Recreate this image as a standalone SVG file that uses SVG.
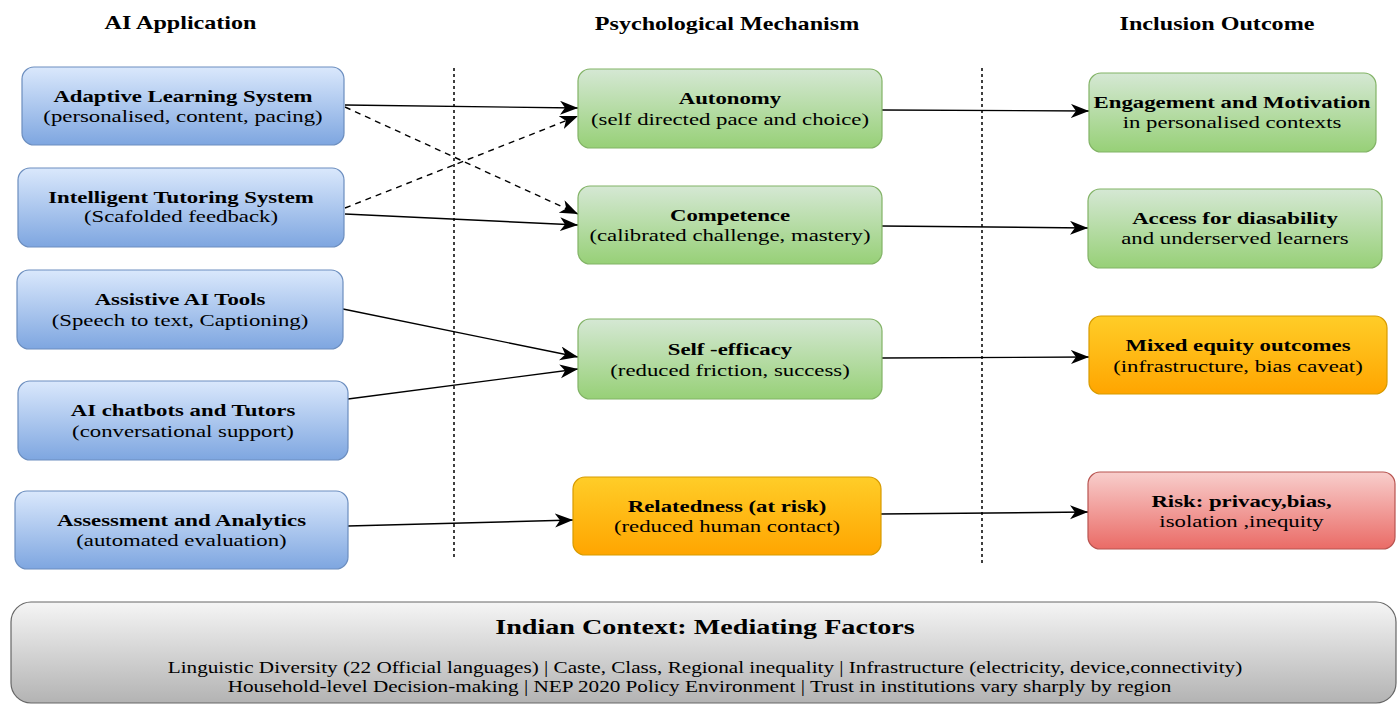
<svg xmlns="http://www.w3.org/2000/svg" width="1398" height="704" viewBox="0 0 1398 704">
  <style>
    text { font-family: "Liberation Serif", "Times New Roman", serif; fill: #000; text-anchor: middle; }
    .hd { font-size: 18px; font-weight: bold; }
    .tt { font-size: 17px; font-weight: bold; }
    .st { font-size: 17px; }
    .ft { font-size: 21px; font-weight: bold; }
    .fl { font-size: 15.8px; }
    .blue { fill: url(#gBlue); stroke: #6c8ebf; stroke-width: 1.2; }
    .green { fill: url(#gGreen); stroke: #82b366; stroke-width: 1.2; }
    .orange { fill: url(#gOrange); stroke: #d79b00; stroke-width: 1.2; }
    .red { fill: url(#gRed); stroke: #b85450; stroke-width: 1.2; }
    .gray { fill: url(#gGray); stroke: #666666; stroke-width: 1.2; }
    .sep { stroke: #000; stroke-width: 1.5; stroke-dasharray: 3 3; fill: none; }
    .edge { stroke: #000; stroke-width: 1.4; fill: none; marker-end: url(#arrow); }
    .dash { stroke-dasharray: 6 5; }
  </style>
  <defs>
    <linearGradient id="gBlue" x1="0" y1="0" x2="0" y2="1">
      <stop offset="0" stop-color="#dae8fc"/>
      <stop offset="1" stop-color="#7ea6e0"/>
    </linearGradient>
    <linearGradient id="gGreen" x1="0" y1="0" x2="0" y2="1">
      <stop offset="0" stop-color="#d5e8d4"/>
      <stop offset="1" stop-color="#97d077"/>
    </linearGradient>
    <linearGradient id="gOrange" x1="0" y1="0" x2="0" y2="1">
      <stop offset="0" stop-color="#ffcd28"/>
      <stop offset="1" stop-color="#ffa500"/>
    </linearGradient>
    <linearGradient id="gRed" x1="0" y1="0" x2="0" y2="1">
      <stop offset="0" stop-color="#f8cecc"/>
      <stop offset="1" stop-color="#ea6b66"/>
    </linearGradient>
    <linearGradient id="gGray" x1="0" y1="0" x2="0" y2="1">
      <stop offset="0" stop-color="#f5f5f5"/>
      <stop offset="1" stop-color="#b3b3b3"/>
    </linearGradient>
    <marker id="arrow" markerUnits="userSpaceOnUse" markerWidth="20" markerHeight="16" refX="18" refY="7" orient="auto">
      <path d="M0,0 L18,7 L0,14 L5,7 Z" fill="#000"/>
    </marker>
  </defs>

  <!-- column headings -->
  <g id="headings">
    <text class="hd" transform="matrix(1.34 0 0 1 180.5 28.5)">AI Application</text>
    <text class="hd" transform="matrix(1.34 0 0 1 727 30)">Psychological Mechanism</text>
    <text class="hd" transform="matrix(1.34 0 0 1 1217 30)">Inclusion Outcome</text>
  </g>

  <!-- column separators -->
  <g id="separators">
    <line class="sep" x1="454" y1="68" x2="454" y2="557"/>
    <line class="sep" x1="982" y1="68" x2="982" y2="565"/>
  </g>

  <!-- connectors -->
  <g id="connectors">
    <path class="edge" d="M345,105 L578,108"/>
    <path class="edge dash" d="M345,107 L578,214"/>
    <path class="edge dash" d="M345,208 L578,116"/>
    <path class="edge" d="M345,214 L578,225"/>
    <path class="edge" d="M343,309 L578,357"/>
    <path class="edge" d="M348,399 L578,369"/>
    <path class="edge" d="M348,526 L573,520"/>
    <path class="edge" d="M882,110 L1089,111"/>
    <path class="edge" d="M882,226 L1088,228"/>
    <path class="edge" d="M882,358 L1089,357"/>
    <path class="edge" d="M881,514 L1088,512"/>
  </g>

  <!-- AI applications -->
  <g id="adaptive-learning">
    <rect class="blue" x="22" y="67" width="322" height="78" rx="12"/>
    <text class="tt" transform="matrix(1.34 0 0 1 183 102)">Adaptive Learning System</text>
    <text class="st" transform="matrix(1.34 0 0 1 183 122)">(personalised, content, pacing)</text>
  </g>
  <g id="intelligent-tutoring">
    <rect class="blue" x="18" y="168" width="326" height="79" rx="12"/>
    <text class="tt" transform="matrix(1.34 0 0 1 181 203)">Intelligent Tutoring System</text>
    <text class="st" transform="matrix(1.34 0 0 1 181 222)">(Scafolded feedback)</text>
  </g>
  <g id="assistive-tools">
    <rect class="blue" x="17" y="270" width="326" height="79" rx="12"/>
    <text class="tt" transform="matrix(1.34 0 0 1 180 305)">Assistive AI Tools</text>
    <text class="st" transform="matrix(1.34 0 0 1 180 326)">(Speech to text, Captioning)</text>
  </g>
  <g id="chatbots-tutors">
    <rect class="blue" x="18" y="381" width="330" height="79" rx="12"/>
    <text class="tt" transform="matrix(1.34 0 0 1 183 416)">AI chatbots and Tutors</text>
    <text class="st" transform="matrix(1.34 0 0 1 183 437)">(conversational support)</text>
  </g>
  <g id="assessment-analytics">
    <rect class="blue" x="15" y="491" width="333" height="78" rx="12"/>
    <text class="tt" transform="matrix(1.34 0 0 1 181.5 526)">Assessment and Analytics</text>
    <text class="st" transform="matrix(1.34 0 0 1 181.5 546)">(automated evaluation)</text>
  </g>

  <!-- psychological mechanisms -->
  <g id="autonomy">
    <rect class="green" x="578" y="69" width="304" height="79" rx="12"/>
    <text class="tt" transform="matrix(1.34 0 0 1 730 104)">Autonomy</text>
    <text class="st" transform="matrix(1.34 0 0 1 730 125)">(self directed pace and choice)</text>
  </g>
  <g id="competence">
    <rect class="green" x="578" y="186" width="304" height="78" rx="12"/>
    <text class="tt" transform="matrix(1.34 0 0 1 730 221)">Competence</text>
    <text class="st" transform="matrix(1.34 0 0 1 730 241)">(calibrated challenge, mastery)</text>
  </g>
  <g id="self-efficacy">
    <rect class="green" x="578" y="319" width="304" height="80" rx="12"/>
    <text class="tt" transform="matrix(1.34 0 0 1 730 355)">Self -efficacy</text>
    <text class="st" transform="matrix(1.34 0 0 1 730 376)">(reduced friction, success)</text>
  </g>
  <g id="relatedness">
    <rect class="orange" x="573" y="477" width="308" height="78" rx="12"/>
    <text class="tt" transform="matrix(1.34 0 0 1 727 512)">Relatedness (at risk)</text>
    <text class="st" transform="matrix(1.34 0 0 1 727 532)">(reduced human contact)</text>
  </g>

  <!-- inclusion outcomes -->
  <g id="engagement">
    <rect class="green" x="1089" y="73" width="287" height="79" rx="12"/>
    <text class="tt" transform="matrix(1.34 0 0 1 1232 108)">Engagement and Motivation</text>
    <text class="st" transform="matrix(1.34 0 0 1 1232 128)">in personalised contexts</text>
  </g>
  <g id="access">
    <rect class="green" x="1088" y="189" width="294" height="79" rx="12"/>
    <text class="tt" transform="matrix(1.34 0 0 1 1235 224)">Access for diasability</text>
    <text class="st" transform="matrix(1.34 0 0 1 1235 244)">and underserved learners</text>
  </g>
  <g id="mixed-equity">
    <rect class="orange" x="1089" y="316" width="298" height="78" rx="12"/>
    <text class="tt" transform="matrix(1.34 0 0 1 1238 351)">Mixed equity outcomes</text>
    <text class="st" transform="matrix(1.34 0 0 1 1238 372)">(infrastructure, bias caveat)</text>
  </g>
  <g id="risk">
    <rect class="red" x="1088" y="472" width="307" height="77" rx="12"/>
    <text class="tt" transform="matrix(1.34 0 0 1 1241.5 507)">Risk: privacy,bias,</text>
    <text class="st" transform="matrix(1.34 0 0 1 1241.5 527)">isolation ,inequity</text>
  </g>

  <!-- contextual factors banner -->
  <g id="indian-context">
    <rect class="gray" x="11" y="602" width="1385" height="101" rx="20"/>
    <text class="ft" transform="matrix(1.34 0 0 1 705 634)">Indian Context: Mediating Factors</text>
    <text class="fl" transform="matrix(1.34 0 0 1 705 673)">Linguistic Diversity (22 Official languages) | Caste, Class, Regional inequality | Infrastructure (electricity, device,connectivity)</text>
    <text class="fl" transform="matrix(1.34 0 0 1 699.5 692)">Household-level Decision-making | NEP 2020 Policy Environment | Trust in institutions vary sharply by region</text>
  </g>
</svg>
